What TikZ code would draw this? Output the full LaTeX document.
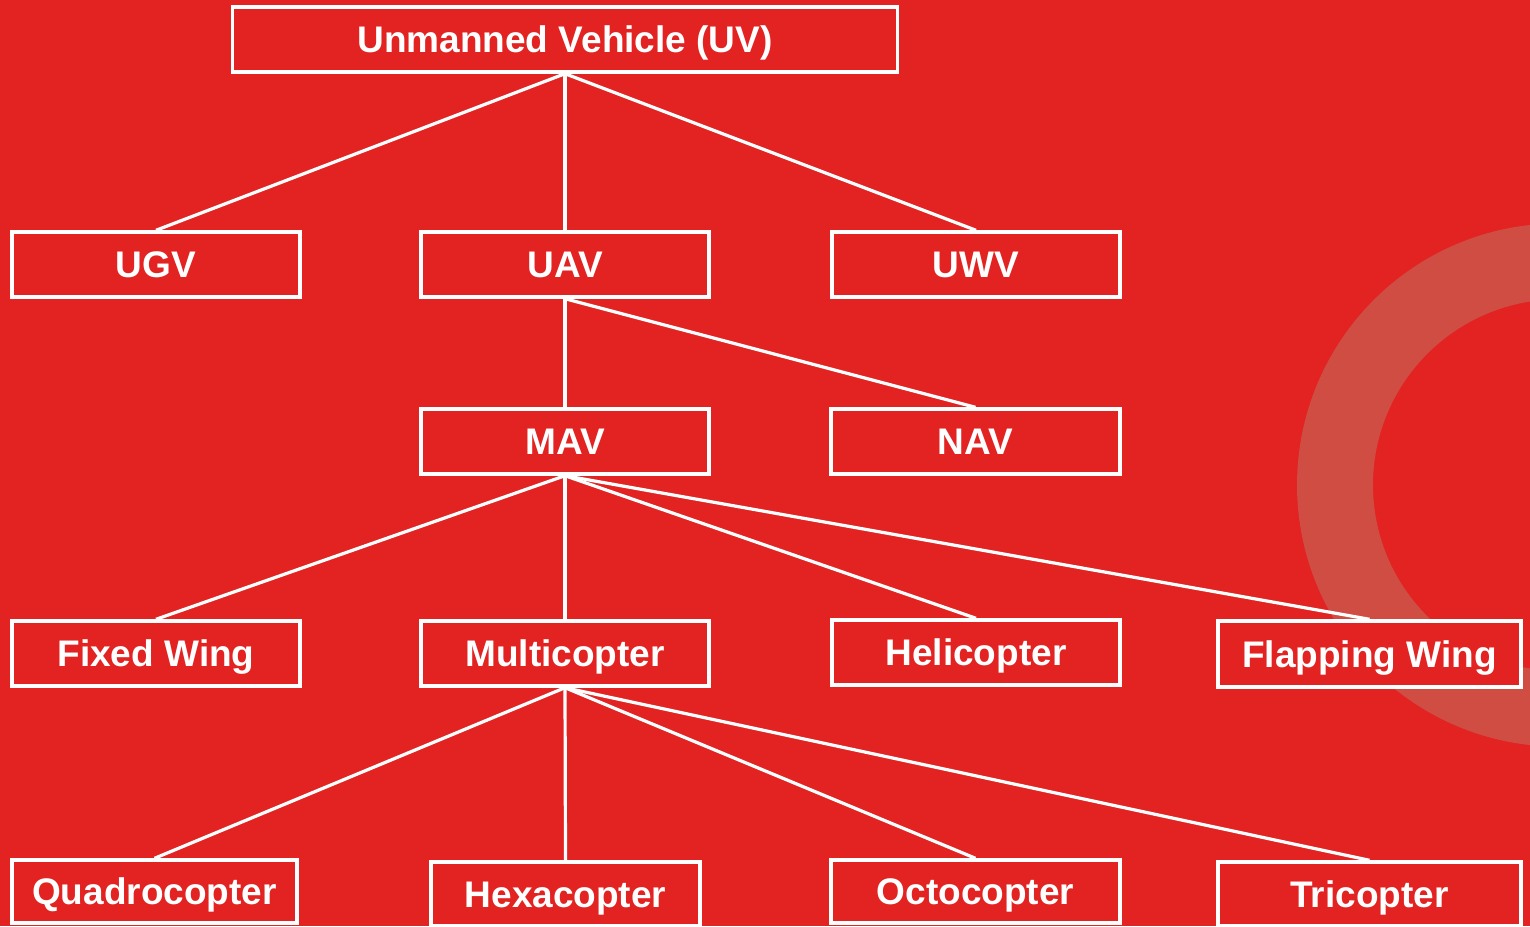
\documentclass[tikz,border=0pt]{standalone}
\usepackage{fontspec}
\setmainfont{Liberation Sans}
\definecolor{bgred}{RGB}{226,35,34}
\definecolor{ringred}{RGB}{207,77,67}
\tikzset{
  box/.style={draw=white, line width=3.4pt, fill=bgred, text=white,
    font=\fontsize{37}{44}\selectfont\bfseries,
    inner sep=0pt, text height=26.5pt, text depth=0pt, align=center},
  link/.style={draw=white, line width=3.2pt}
}
\newcommand{\boxat}[5]{%
  \node[box, minimum width=#3pt, minimum height=#4pt] (#1) at (#2) {#5};}
\begin{document}
\begin{tikzpicture}[x=1pt,y=-1pt]
  \useasboundingbox (0,0) rectangle (1530,926);
  \fill[bgred] (0,0) rectangle (1530,926);
  % decorative ring on the right edge
  \begin{scope}
    \clip (0,0) rectangle (1530,926);
    \draw[ringred, line width=76pt] (1558.6,485) circle[radius=223.6];
  \end{scope}

  % level 0
  \boxat{uv}{565,39.5}{665}{65}{Unmanned Vehicle (UV)}
  % level 1
  \boxat{ugv}{156,264.5}{288}{65}{UGV}
  \boxat{uav}{565,264.5}{288}{65}{UAV}
  \boxat{uwv}{976,264.5}{288}{65}{UWV}
  % level 2
  \boxat{mav}{565,441.5}{288}{65}{MAV}
  \boxat{nav}{975.5,441.5}{289}{65}{NAV}
  % level 3
  \boxat{fw}{156,653.5}{288}{65}{Fixed Wing}
  \boxat{mc}{565,653.5}{288}{65}{Multicopter}
  \boxat{heli}{976,652.5}{288}{65}{Helicopter}
  \boxat{flap}{1369.5,654}{303}{66}{Flapping Wing}
  % level 4
  \boxat{quad}{154.5,891.5}{285}{63}{Quadrocopter}
  \boxat{hexa}{565.5,894}{269}{64}{Hexacopter}
  \boxat{octo}{975.5,891.5}{289}{63}{Octocopter}
  \boxat{tri}{1369.5,894}{303}{64}{Tricopter}

  % connectors
  \begin{scope}[link]
    \draw (uv.south) -- (ugv.north);
    \draw (uv.south) -- (uav.north);
    \draw (uv.south) -- (uwv.north);
    \draw (uav.south) -- (mav.north);
    \draw (uav.south) -- (nav.north);
    \draw (mav.south) -- (fw.north);
    \draw (mav.south) -- (mc.north);
    \draw (mav.south) -- (heli.north);
    \draw (mav.south) -- (flap.north);
    \draw (mc.south) -- (quad.north);
    \draw (mc.south) -- (hexa.north);
    \draw (mc.south) -- (octo.north);
    \draw (mc.south) -- (tri.north);
  \end{scope}
\end{tikzpicture}
\end{document}
